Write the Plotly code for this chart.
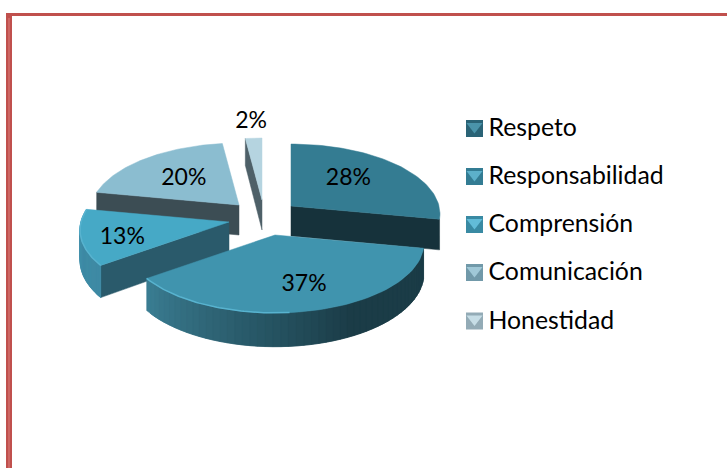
import math
import plotly.graph_objects as go

categories = ["Respeto", "Responsabilidad", "Comprensión", "Comunicación", "Honestidad"]
percents = [28, 37, 13, 20, 2]

top_colors = ["#347c92", "#4094ae", "#46a9c6", "#8bbdd0", "#b5d4e0"]
radial_colors = ["#16323b", "#1b3c47", "#2a5a6b", "#3c4d54", "#4e6068"]
wall_left = ["#16323b", "#3a7d92", "#4a9ebb", "#3c4d54", "#4e6068"]
wall_right = ["#16323b", "#1b3c47", "#3f8ba5", "#3c4d54", "#4e6068"]
swatch_light = ["#4a93aa", "#5cb0ca", "#62bcd8", "#a0c8d7", "#c6dde6"]
swatch_dark = ["#2a6376", "#337c93", "#398aa3", "#7199a9", "#93abb6"]

# where each exploded slice has its tip, in page pixels
tips = [(291, 206), (275, 235), (229, 222), (239, 205), (262, 200)]
label_frac = [(.54, .71), (.8, .63), (.72, .87), (.59, .6), (1.3, 1.3)]
# which radial edge shows its wall: 0 start edge, 1 end edge, None neither
radial_edge = [1, None, 0, 0, 0]
legend_y = [128.5, 176.5, 224.5, 272.5, 321]

rx = 148
ry = 69
persp = .114
depth = 30


def project(theta):
    # theta is clockwise from 12 o'clock, in degrees
    u = math.sin(math.radians(theta))
    v = math.cos(math.radians(theta))
    s = 1 / (1 + persp * v)
    return rx * u * s, -ry * v * s, depth * s


def poly(fig, xs, ys, color):
    fig.add_trace(go.Scatter(x=xs, y=ys, mode="lines", fill="toself", fillcolor=color,
                             line=dict(color=color, width=.5), hoverinfo="skip", showlegend=False))


def mix(c1, c2, t):
    a = [int(c1[i:i + 2], 16) for i in (1, 3, 5)]
    b = [int(c2[i:i + 2], 16) for i in (1, 3, 5)]
    return "#%02x%02x%02x" % tuple(round(p + (q - p) * t) for p, q in zip(a, b))


def arc(start, end, n=60):
    return [start + (end - start) * i / n for i in range(n + 1)]


total = sum(percents)
starts = []
acc = 0
for p in percents:
    starts.append(acc * 360 / total)
    acc += p
ends = starts[1:] + [360]

fig = go.Figure()

# back to front so that nearer slices cover the ones behind
for k in [4, 3, 0, 2, 1]:
    tx, ty = tips[k]
    a0, a1 = starts[k], ends[k]

    if radial_edge[k] is not None:
        dx, dy, d = project((a0, a1)[radial_edge[k]])
        poly(fig, [tx, tx + dx, tx + dx, tx, tx],
             [ty, ty + dy, ty + dy + d, ty + depth, ty], radial_colors[k])

    # outer wall in strips for the shading, each one reaches under the next to hide seams
    if k in (1, 2):
        angles = arc(a1, a0, 50)
        for i in range(len(angles) - 1):
            p = project(angles[i])
            q = project(angles[min(i + 2, len(angles) - 1)])
            t = min(1, i / 50 / .6)
            poly(fig, [tx + p[0], tx + q[0], tx + q[0], tx + p[0], tx + p[0]],
                 [ty + p[1], ty + q[1], ty + q[1] + q[2], ty + p[1] + p[2], ty + p[1]],
                 mix(wall_left[k], wall_right[k], t))

    # top face
    pts = [project(a) for a in arc(a0, a1)]
    poly(fig, [tx] + [tx + p[0] for p in pts] + [tx], [ty] + [ty + p[1] for p in pts] + [ty], top_colors[k])

    # light rim on the front curve
    if k in (1, 2):
        rim = [project(a) for a in arc(max(a0, 175), a1)]
        fig.add_trace(go.Scatter(x=[tx + p[0] for p in rim], y=[ty + p[1] for p in rim], mode="lines",
                                 line=dict(color="#58b3cf", width=1.5), hoverinfo="skip", showlegend=False))

# percent labels
lab_x, lab_y, lab_text = [], [], []
for k, p in enumerate(percents):
    dx, dy, _ = project((starts[k] + ends[k]) / 2)
    lab_x.append(tips[k][0] + dx * label_frac[k][0])
    lab_y.append(tips[k][1] + dy * label_frac[k][1] + 2.5)
    lab_text.append(f"{p}%")
fig.add_trace(go.Scatter(x=lab_x, y=lab_y, mode="text", text=lab_text, textposition="middle center",
                         textfont=dict(family="Lato", size=23, color="#000000"),
                         hoverinfo="skip", showlegend=False))

# legend
leg_x = [474.5] * len(categories)
fig.add_trace(go.Scatter(x=leg_x, y=legend_y, mode="markers", hoverinfo="skip", showlegend=False,
                         marker=dict(symbol="square", size=17, color=swatch_dark, line=dict(width=0))))
fig.add_trace(go.Scatter(x=leg_x, y=[y - 2 for y in legend_y], mode="markers", hoverinfo="skip", showlegend=False,
                         marker=dict(symbol="triangle-down", size=14, color=swatch_light, line=dict(width=0))))
fig.add_trace(go.Scatter(x=[x + 14 for x in leg_x], y=[y + 1.5 for y in legend_y], mode="text", text=categories,
                         textposition="middle right", hoverinfo="skip", showlegend=False,
                         textfont=dict(family="Lato", size=24.8, color="#000000")))

frame = "#c0504d"
frame_inner = "#cd6764"
fig.update_layout(
    width=727, height=468,
    margin=dict(l=0, r=0, t=0, b=0),
    paper_bgcolor="#ffffff", plot_bgcolor="#ffffff",
    xaxis=dict(range=[0, 727], visible=False, fixedrange=True),
    yaxis=dict(range=[468, 0], visible=False, fixedrange=True),
    shapes=[
        dict(type="rect", x0=6, x1=12, y0=13, y1=468, fillcolor=frame, line_width=0),
        dict(type="rect", x0=8, x1=10, y0=18, y1=468, fillcolor=frame_inner, line_width=0),
        dict(type="rect", x0=6, x1=727, y0=13, y1=16, fillcolor=frame, line_width=0),
    ],
)

# the page's default body margin would push the figure 8px off, and Lato's st ligature is unwanted
page_fix = """
document.body.style.margin = '0';
document.head.insertAdjacentHTML('beforeend', '<style>text{font-variant-ligatures:none}</style>');
"""
fig.write_html("out.html", post_script=page_fix, config=dict(displayModeBar=False))
